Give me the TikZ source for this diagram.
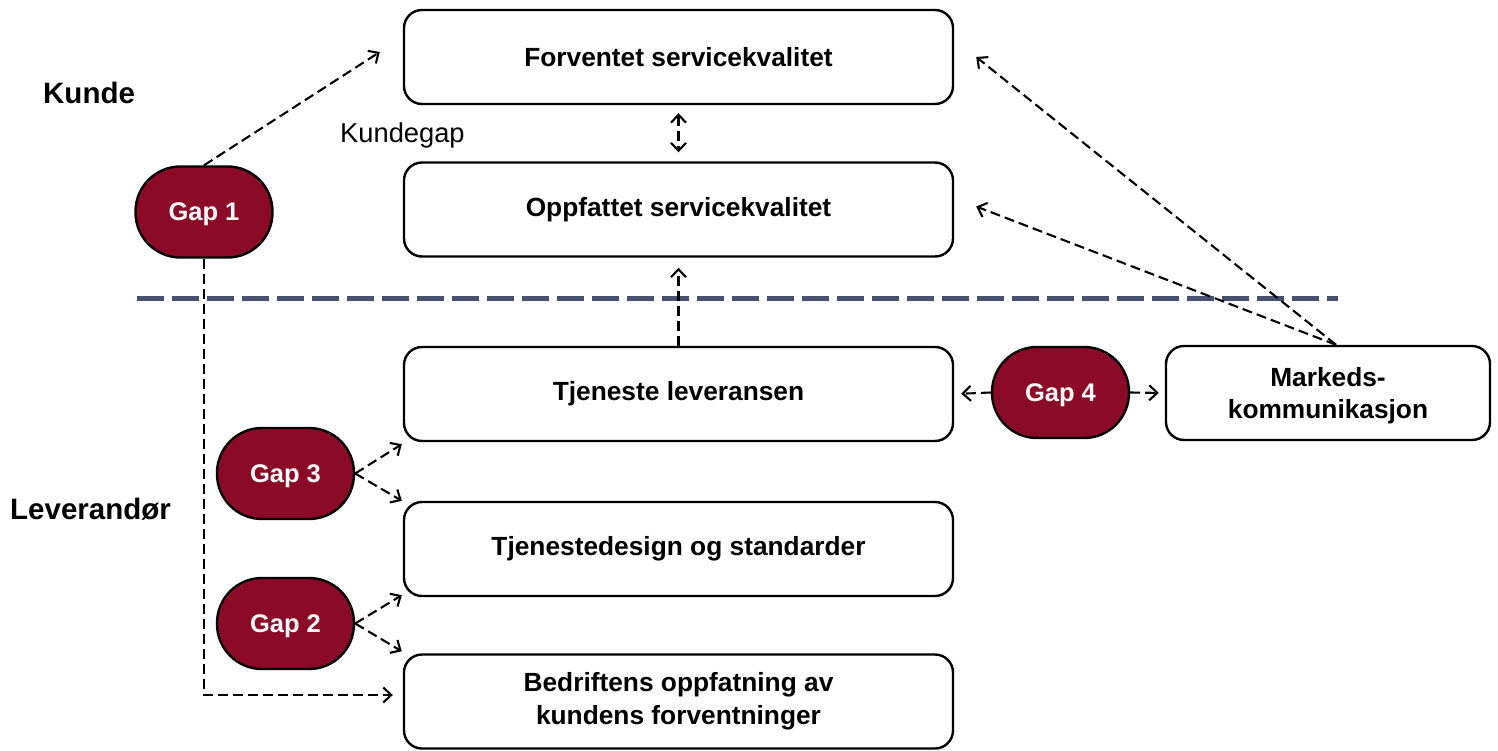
\documentclass[tikz,border=0pt]{standalone}
\usepackage{fontspec}
\setmainfont{Liberation Sans}
\usetikzlibrary{arrows.meta,calc}
\definecolor{gapred}{RGB}{139,10,40}
\definecolor{divider}{RGB}{72,80,112}
\tikzset{barb/.tip={Straight Barb[length=8pt,width=15pt,line width=2.1pt]}}
\newcommand{\lowered}[1]{\raisebox{-2.5pt}[\height][\depth]{#1}}
\begin{document}
\begin{tikzpicture}[x=1pt,y=-1pt,
  box/.style={draw=black,line width=2.4pt,rounded corners=18pt,fill=white,
    minimum width=549pt,minimum height=94pt,align=center,inner sep=0pt,
    font=\fontsize{26.3}{32.5}\selectfont\bfseries},
  gap/.style={draw=black,line width=2.4pt,rounded corners=45pt,fill=gapred,
    minimum width=137pt,minimum height=91pt,inner sep=0pt,text=white,
    font=\fontsize{25.5}{30}\selectfont\bfseries},
  side/.style={inner sep=0pt,font=\fontsize{29.5}{34}\selectfont\bfseries},
  link/.style={line width=2.1pt,dash pattern=on 10pt off 5pt,-{barb}},
  twoway/.style={link,{barb}-{barb}}
]
\useasboundingbox (0,0) rectangle (1498,751);

% service quality boxes
\node[box] (b1) at (678.5,57) {Forventet servicekvalitet};
\node[box] (b2) at (678.5,209.5) {Oppfattet servicekvalitet};
\node[box] (b3) at (678.5,394) {Tjeneste leveransen};
\node[box] (b4) at (678.5,549) {Tjenestedesign og standarder};
\node[box] (b5) at (678.5,701.5) {Bedriftens oppfatning av\\kundens forventninger};
\node[box,minimum width=324pt] (b6) at (1328,393) {\lowered{Markeds-}\\\lowered{kommunikasjon}};

% gaps
\node[gap] (g1) at (204,212) {\lowered{Gap 1}};
\node[gap] (g2) at (285.5,623.5) {\lowered{Gap 2}};
\node[gap] (g3) at (285.5,473.5) {\lowered{Gap 3}};
\node[gap] (g4) at (1060.5,392.5) {\lowered{Gap 4}};

% side labels
\node[side,anchor=west] (kunde) at (43,93) {Kunde};
\node[side,anchor=west] (lev) at (10,509) {Leverandør};
\node[inner sep=0pt,anchor=base west,font=\fontsize{27.3}{30}\selectfont] (kgap) at (340,143) {Kundegap};

% divider between customer and provider
\coordinate (dl) at (137,298);
\coordinate (dr) at (1338,298);
\draw[divider,line width=5pt,dash pattern=on 27pt off 8pt] (dl) -- (dr);

% connectors
\draw[link] (g1.north) -- ($(b1.west)+(-23,-5)$);
\draw[link] (g1.south) |- ($(b5.west)+(-10,-6.5)$);
\draw[twoway,shorten <=8pt,shorten >=9pt] (b1.south) -- (b2.north);
\draw[link,shorten >=10pt] (b3.north) -- (b2.south);
\draw[link] (g3.east) -- ($(b3.south west)+(-1,2)$);
\draw[link] (g3.east) -- ($(b4.north west)+(-1,0)$);
\draw[link] (g2.east) -- ($(b4.south west)+(-1,-2)$);
\draw[link] (g2.east) -- ($(b5.north west)+(-1,-2)$);
\draw[link,shorten >=7pt] (g4.west) -- (b3.east);
\draw[link,shorten >=6pt] (g4.east) -- (b6.west);
\draw[link] ($(b6.north)+(8,0)$) -- ($(b1.east)+(22,0)$);
\draw[link] ($(b6.north)+(8,0)$) -- ($(b2.east)+(22,-3)$);
\end{tikzpicture}
\end{document}
